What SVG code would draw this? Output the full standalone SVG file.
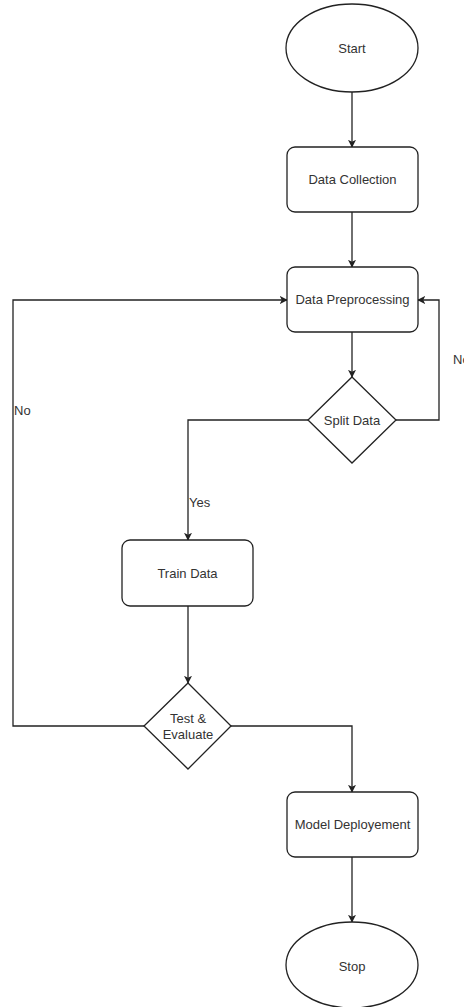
<svg xmlns="http://www.w3.org/2000/svg" width="464" height="1007" viewBox="0 0 464 1007">
<style>
.s{fill:#fff;stroke:#222;stroke-width:1.3}
.t{font-family:"Liberation Sans",Arial,sans-serif;font-size:13px;fill:#333;text-anchor:middle;dominant-baseline:central}
.l{font-family:"Liberation Sans",Arial,sans-serif;font-size:13px;fill:#333;dominant-baseline:central}
.c{fill:none;stroke:#222;stroke-width:1.3;marker-end:url(#a)}
</style>
<defs>
<marker id="a" viewBox="0 0 10 10" refX="9" refY="5" markerWidth="8" markerHeight="8" markerUnits="userSpaceOnUse" orient="auto">
<path d="M0,0 L10,5 L0,10 L2.5,5 Z" fill="#222"/>
</marker>
</defs>
<g id="connectors">
<path class="c" d="M352,92 V147"/>
<path class="c" d="M352,212 V267"/>
<path class="c" d="M352,332 V377"/>
<path class="c" d="M308,420 H188 V540"/>
<path class="c" d="M396,420 H439 V300 H418"/>
<path class="c" d="M188,606 V683"/>
<path class="c" d="M144,726 H13 V300 H287"/>
<path class="c" d="M231,726 H352 V792"/>
<path class="c" d="M352,857 V922"/>
<text class="l" x="189" y="502">Yes</text>
<text class="l" x="453" y="359">No</text>
<text class="l" x="14" y="410">No</text>
</g>
<g id="start"><ellipse class="s" cx="352" cy="48" rx="66" ry="44"/><text class="t" x="352" y="48">Start</text></g>
<g id="collection"><rect class="s" x="287" y="147" width="131" height="65" rx="8"/><text class="t" x="352.5" y="179.5">Data Collection</text></g>
<g id="preprocessing"><rect class="s" x="287" y="267" width="131" height="65" rx="8"/><text class="t" x="352.5" y="299.5">Data Preprocessing</text></g>
<g id="split"><path class="s" d="M352,377 L396,420 L352,463 L308,420 Z"/><text class="t" x="352" y="420">Split Data</text></g>
<g id="train"><rect class="s" x="122" y="540" width="131" height="66" rx="8"/><text class="t" x="187.5" y="573">Train Data</text></g>
<g id="test"><path class="s" d="M188,683 L231,726 L188,769 L144,726 Z"/><text class="t" x="188" y="718">Test &amp;</text><text class="t" x="188" y="734">Evaluate</text></g>
<g id="deploy"><rect class="s" x="287" y="792" width="131" height="65" rx="8"/><text class="t" x="352.5" y="824.5">Model Deployement</text></g>
<g id="stop"><ellipse class="s" cx="352" cy="965" rx="66" ry="43"/><text class="t" x="352" y="966">Stop</text></g>
</svg>
